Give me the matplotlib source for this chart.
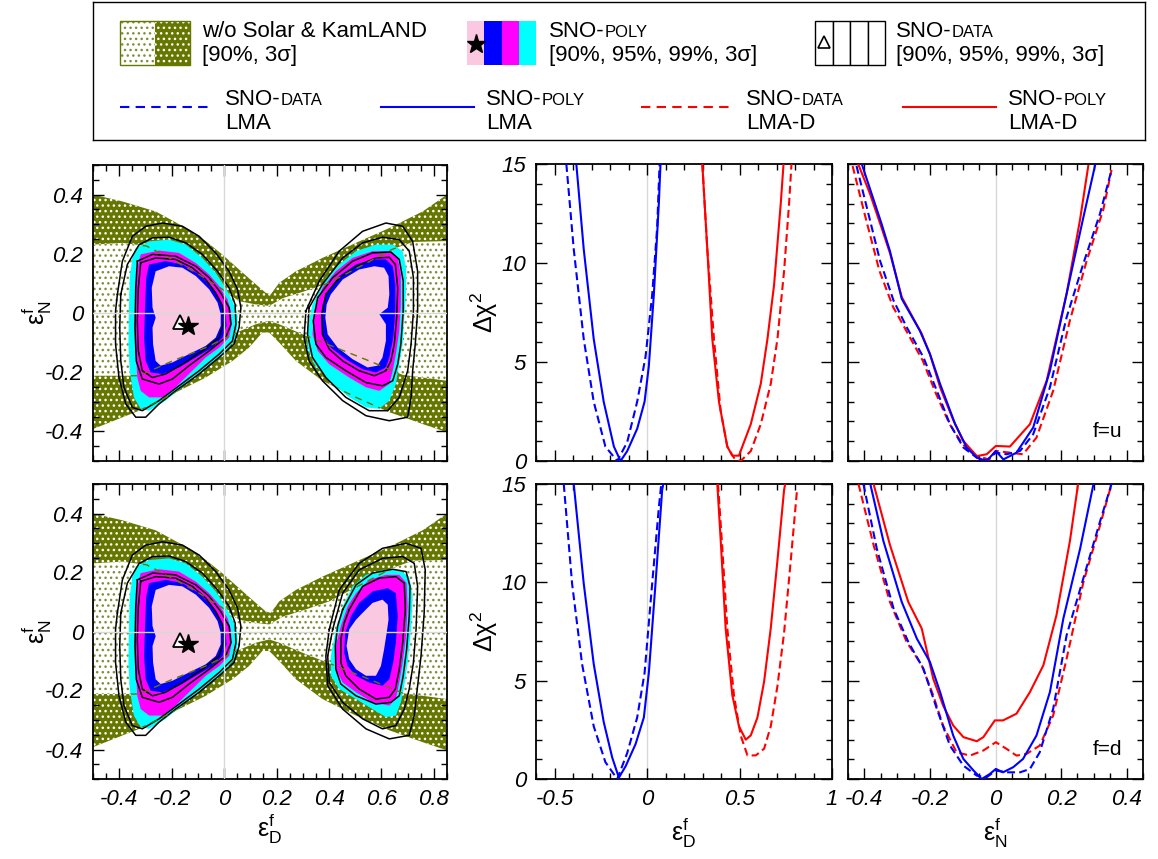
import matplotlib
matplotlib.use('Agg')
import matplotlib.pyplot as plt
from matplotlib.patches import Polygon, Rectangle
from matplotlib.ticker import MultipleLocator, FuncFormatter

plt.rcParams['font.family'] = ['Liberation Sans', 'DejaVu Sans']
plt.rcParams['axes.unicode_minus'] = False
plt.rcParams['mathtext.fontset'] = 'custom'
plt.rcParams['mathtext.rm'] = 'Liberation Sans'
plt.rcParams['mathtext.it'] = 'Liberation Sans:italic'
plt.rcParams['hatch.linewidth'] = 1.0

OLIVE = '#667700'
OLIVE_DOT = '#7f8d35'
PINK = '#fac8e0'
GREY = '#d8d8d8'

# ---- w/o Solar & KamLAND region (eps_D, eps_N) ----
OLIVE_3S_UPPER = [(-0.5, 0.400), (-0.388, 0.377), (-0.261, 0.343), (-0.134, 0.282), (-0.070, 0.243),
                  (-0.006, 0.197), (0.057, 0.147), (0.121, 0.097), (0.159, 0.068), (0.178, 0.063),
                  (0.210, 0.102), (0.274, 0.141), (0.375, 0.186), (0.503, 0.237), (0.630, 0.287),
                  (0.757, 0.343), (0.85, 0.400)]
OLIVE_3S_LOWER = [(-0.5, -0.392), (-0.324, -0.330), (-0.197, -0.274), (-0.070, -0.218), (0.032, -0.162),
                  (0.095, -0.117), (0.146, -0.066), (0.172, -0.066), (0.210, -0.100), (0.274, -0.162),
                  (0.375, -0.229), (0.503, -0.285), (0.630, -0.335), (0.757, -0.375), (0.85, -0.403)]
OLIVE_90_UPPER = [(-0.5, 0.231), (-0.388, 0.237), (-0.295, 0.226), (-0.197, 0.180), (-0.095, 0.130),
                  (-0.006, 0.080), (0.057, 0.040), (0.121, 0.029), (0.172, 0.024), (0.223, 0.050),
                  (0.312, 0.075), (0.401, 0.102), (0.503, 0.150), (0.641, 0.215), (0.720, 0.240),
                  (0.85, 0.243)]
OLIVE_90_LOWER = [(-0.5, -0.212), (-0.324, -0.212), (-0.197, -0.162), (-0.070, -0.117), (0.032, -0.072),
                  (0.121, -0.038), (0.172, -0.027), (0.210, -0.038), (0.299, -0.072), (0.426, -0.117),
                  (0.554, -0.162), (0.681, -0.209), (0.85, -0.229)]

# ---- LMA island (both panels) ----
LMA_POLY_3S = [(-0.337, 0.220), (-0.286, 0.242), (-0.210, 0.248), (-0.146, 0.231), (-0.083, 0.186),
               (-0.032, 0.136), (0.006, 0.085), (0.032, 0.040), (0.051, -0.004), (0.051, -0.049),
               (0.038, -0.094), (-0.006, -0.139), (-0.070, -0.184), (-0.146, -0.240), (-0.223, -0.296),
               (-0.286, -0.330), (-0.318, -0.324), (-0.344, -0.285), (-0.360, -0.195), (-0.365, -0.105),
               (-0.363, 0.007), (-0.360, 0.119), (-0.350, 0.186)]
LMA_POLY_99 = [(-0.318, 0.198), (-0.248, 0.211), (-0.172, 0.203), (-0.108, 0.169), (-0.057, 0.130),
               (-0.019, 0.091), (0.013, 0.046), (0.026, 0.007), (0.029, -0.038), (0.019, -0.083),
               (-0.019, -0.117), (-0.070, -0.150), (-0.134, -0.206), (-0.185, -0.251), (-0.235, -0.285),
               (-0.286, -0.285), (-0.318, -0.263), (-0.331, -0.218), (-0.337, -0.128), (-0.340, -0.027),
               (-0.337, 0.085), (-0.331, 0.153)]
LMA_POLY_95 = [(-0.286, 0.164), (-0.223, 0.175), (-0.159, 0.164), (-0.095, 0.130), (-0.045, 0.085),
               (-0.013, 0.040), (0.006, -0.004), (0.009, -0.044), (-0.006, -0.083), (-0.045, -0.117),
               (-0.108, -0.150), (-0.172, -0.184), (-0.235, -0.206), (-0.280, -0.201), (-0.299, -0.162),
               (-0.305, -0.083), (-0.302, 0.007), (-0.297, 0.119)]
LMA_POLY_90 = [(-0.261, 0.141), (-0.210, 0.158), (-0.159, 0.153), (-0.108, 0.125), (-0.057, 0.080),
               (-0.025, 0.035), (-0.013, -0.004), (-0.013, -0.044), (-0.032, -0.083), (-0.070, -0.111),
               (-0.134, -0.139), (-0.197, -0.167), (-0.242, -0.178), (-0.261, -0.162), (-0.271, -0.105),
               (-0.273, -0.049), (-0.261, -0.016), (-0.273, 0.018), (-0.276, 0.085)]
LMA_DATA = [
    [(-0.318, 0.170), (-0.261, 0.186), (-0.185, 0.181), (-0.121, 0.153), (-0.070, 0.113), (-0.032, 0.068),
     (-0.006, 0.024), (0.000, -0.027), (-0.019, -0.083), (-0.083, -0.128), (-0.159, -0.173),
     (-0.223, -0.206), (-0.273, -0.218), (-0.312, -0.195), (-0.327, -0.128), (-0.331, -0.027),
     (-0.327, 0.085)],
    [(-0.331, 0.175), (-0.273, 0.198), (-0.185, 0.192), (-0.108, 0.158), (-0.057, 0.119), (-0.013, 0.068),
     (0.019, 0.018), (0.026, -0.038), (0.006, -0.083), (-0.057, -0.128), (-0.134, -0.178),
     (-0.197, -0.223), (-0.248, -0.240), (-0.312, -0.223), (-0.335, -0.162), (-0.340, -0.049),
     (-0.337, 0.085)],
    [(-0.394, 0.063), (-0.369, 0.164), (-0.324, 0.231), (-0.273, 0.254), (-0.210, 0.256), (-0.146, 0.237),
     (-0.083, 0.198), (-0.025, 0.141), (0.019, 0.085), (0.042, 0.029), (0.045, -0.038), (0.032, -0.094),
     (-0.019, -0.139), (-0.095, -0.195), (-0.172, -0.246), (-0.248, -0.296), (-0.312, -0.330),
     (-0.350, -0.319), (-0.382, -0.251), (-0.394, -0.162), (-0.398, -0.049)],
    [(-0.407, 0.063), (-0.388, 0.175), (-0.350, 0.259), (-0.299, 0.293), (-0.235, 0.304), (-0.159, 0.293),
     (-0.095, 0.259), (-0.032, 0.203), (0.019, 0.141), (0.051, 0.080), (0.064, 0.018), (0.057, -0.049),
     (0.038, -0.105), (-0.019, -0.150), (-0.095, -0.206), (-0.185, -0.263), (-0.248, -0.307),
     (-0.299, -0.352), (-0.337, -0.352), (-0.375, -0.307), (-0.401, -0.218), (-0.414, -0.105),
     (-0.414, 0.007)],
]

# ---- LMA-D island, f=u ----
LMAD_U_POLY_3S = [(0.388, 0.119), (0.439, 0.164), (0.503, 0.209), (0.579, 0.231), (0.643, 0.231),
                  (0.681, 0.209), (0.694, 0.153), (0.694, 0.074), (0.687, -0.016), (0.681, -0.105),
                  (0.668, -0.173), (0.655, -0.240), (0.630, -0.296), (0.592, -0.324), (0.541, -0.319),
                  (0.477, -0.285), (0.401, -0.229), (0.344, -0.173), (0.318, -0.117), (0.318, -0.049),
                  (0.337, 0.029)]
LMAD_U_POLY_99 = [(0.375, 0.085), (0.426, 0.141), (0.490, 0.186), (0.566, 0.209), (0.630, 0.209),
                  (0.662, 0.186), (0.674, 0.130), (0.674, 0.029), (0.668, -0.061), (0.655, -0.139),
                  (0.643, -0.195), (0.630, -0.240), (0.592, -0.263), (0.541, -0.251), (0.477, -0.218),
                  (0.401, -0.173), (0.357, -0.128), (0.337, -0.072), (0.344, 0.007)]
LMAD_U_POLY_95 = [(0.395, 0.074), (0.439, 0.125), (0.503, 0.164), (0.566, 0.181), (0.617, 0.181),
                  (0.643, 0.158), (0.653, 0.097), (0.653, 0.007), (0.645, -0.083), (0.630, -0.150),
                  (0.617, -0.184), (0.579, -0.201), (0.528, -0.190), (0.464, -0.156), (0.407, -0.117),
                  (0.375, -0.072), (0.369, -0.016), (0.375, 0.029)]
LMAD_U_POLY_90 = [(0.407, 0.063), (0.452, 0.113), (0.515, 0.147), (0.573, 0.158), (0.610, 0.153),
                  (0.627, 0.125), (0.630, 0.063), (0.624, 0.018), (0.592, -0.004), (0.617, -0.038),
                  (0.617, -0.094), (0.604, -0.150), (0.585, -0.178), (0.547, -0.184), (0.490, -0.156),
                  (0.433, -0.117), (0.395, -0.072), (0.386, -0.016), (0.391, 0.029)]
LMAD_U_DATA = [
    [(0.388, 0.063), (0.439, 0.119), (0.503, 0.158), (0.579, 0.186), (0.630, 0.188), (0.653, 0.164),
     (0.662, 0.085), (0.658, -0.016), (0.649, -0.105), (0.636, -0.162), (0.617, -0.195), (0.573, -0.212),
     (0.515, -0.195), (0.452, -0.162), (0.401, -0.122), (0.375, -0.072), (0.373, -0.004)],
    [(0.357, 0.052), (0.414, 0.119), (0.490, 0.175), (0.566, 0.203), (0.636, 0.206), (0.668, 0.181),
     (0.683, 0.108), (0.683, 0.007), (0.674, -0.105), (0.662, -0.173), (0.643, -0.229), (0.604, -0.246),
     (0.541, -0.235), (0.464, -0.195), (0.388, -0.150), (0.350, -0.105), (0.340, -0.027)],
    [(0.324, 0.018), (0.375, 0.097), (0.452, 0.186), (0.528, 0.237), (0.604, 0.256), (0.668, 0.248),
     (0.706, 0.209), (0.722, 0.119), (0.722, 0.007), (0.713, -0.105), (0.700, -0.195), (0.668, -0.285),
     (0.624, -0.330), (0.553, -0.330), (0.464, -0.285), (0.388, -0.218), (0.337, -0.150), (0.318, -0.072)],
    [(0.312, 0.007), (0.363, 0.108), (0.439, 0.209), (0.528, 0.276), (0.617, 0.304), (0.681, 0.293),
     (0.719, 0.242), (0.738, 0.141), (0.738, 0.007), (0.729, -0.105), (0.719, -0.195), (0.713, -0.285),
     (0.700, -0.352), (0.630, -0.364), (0.541, -0.347), (0.452, -0.296), (0.375, -0.229), (0.324, -0.162),
     (0.305, -0.083)],
]

# ---- LMA-D island, f=d ----
LMAD_D_POLY_3S = [(0.490, 0.153), (0.541, 0.192), (0.604, 0.209), (0.668, 0.209), (0.706, 0.186),
                  (0.719, 0.119), (0.713, 0.007), (0.700, -0.105), (0.687, -0.184), (0.674, -0.240),
                  (0.655, -0.285), (0.617, -0.290), (0.566, -0.263), (0.503, -0.229), (0.439, -0.195),
                  (0.407, -0.150), (0.407, -0.083), (0.426, 0.007), (0.452, 0.085)]
LMAD_D_POLY_99 = [(0.503, 0.130), (0.553, 0.175), (0.617, 0.192), (0.668, 0.192), (0.696, 0.164),
                  (0.700, 0.085), (0.694, -0.016), (0.681, -0.105), (0.668, -0.173), (0.655, -0.229),
                  (0.630, -0.251), (0.566, -0.240), (0.503, -0.206), (0.452, -0.173), (0.426, -0.128),
                  (0.426, -0.049), (0.445, 0.018), (0.471, 0.085)]
LMAD_D_POLY_95 = [(0.515, 0.097), (0.566, 0.136), (0.624, 0.147), (0.655, 0.130), (0.662, 0.052),
                  (0.655, -0.038), (0.645, -0.105), (0.630, -0.162), (0.604, -0.184), (0.553, -0.173),
                  (0.503, -0.150), (0.471, -0.117), (0.458, -0.072), (0.462, -0.004), (0.484, 0.052)]
LMAD_D_POLY_90 = [(0.528, 0.063), (0.566, 0.097), (0.604, 0.108), (0.624, 0.091), (0.627, 0.040),
                  (0.620, -0.004), (0.610, -0.061), (0.598, -0.117), (0.579, -0.150), (0.541, -0.150),
                  (0.503, -0.128), (0.477, -0.094), (0.467, -0.049), (0.477, 0.007), (0.503, 0.040)]
LMAD_D_DATA = [
    [(0.477, 0.074), (0.528, 0.153), (0.592, 0.181), (0.655, 0.186), (0.687, 0.164), (0.691, 0.074),
     (0.681, -0.038), (0.668, -0.128), (0.653, -0.195), (0.630, -0.223), (0.579, -0.229), (0.515, -0.195),
     (0.464, -0.150), (0.445, -0.105), (0.445, -0.027), (0.458, 0.029)],
    [(0.452, 0.074), (0.503, 0.158), (0.566, 0.198), (0.643, 0.211), (0.694, 0.203), (0.709, 0.153),
     (0.706, 0.052), (0.696, -0.061), (0.683, -0.150), (0.668, -0.218), (0.636, -0.240), (0.579, -0.246),
     (0.503, -0.218), (0.445, -0.178), (0.426, -0.128), (0.424, -0.049), (0.433, 0.018)],
    [(0.414, 0.007), (0.452, 0.130), (0.515, 0.209), (0.604, 0.248), (0.681, 0.254), (0.725, 0.231),
     (0.738, 0.153), (0.732, 0.007), (0.722, -0.105), (0.706, -0.195), (0.687, -0.263), (0.655, -0.319),
     (0.604, -0.330), (0.528, -0.296), (0.452, -0.240), (0.401, -0.173), (0.395, -0.083)],
    [(0.401, 0.007), (0.439, 0.141), (0.515, 0.231), (0.604, 0.282), (0.694, 0.299), (0.751, 0.282),
     (0.767, 0.209), (0.763, 0.063), (0.751, -0.083), (0.738, -0.184), (0.725, -0.285), (0.706, -0.352),
     (0.630, -0.364), (0.541, -0.330), (0.452, -0.263), (0.395, -0.184), (0.388, -0.083)],
]

BEST_DATA = (-0.168, -0.030)
BEST_POLY = (-0.137, -0.044)

# ---- Delta chi^2 vs eps_D ----
MID_U_DATA_LMA = [(-0.436, 15), (-0.396, 10.7), (-0.342, 6.16), (-0.288, 2.99), (-0.225, 0.73), (-0.161, 0),
                  (-0.107, 0.95), (-0.053, 3.0), (-0.008, 5.26), (0.028, 8.4), (0.055, 11.8), (0.068, 15)]
MID_U_POLY_LMA = [(-0.382, 15), (-0.342, 10.7), (-0.288, 6.16), (-0.234, 2.99), (-0.179, 0.73), (-0.143, 0),
                  (-0.107, 0.5), (-0.053, 1.63), (-0.013, 3.0), (0.010, 4.8), (0.037, 8.4), (0.064, 13),
                  (0.073, 15)]
MID_U_DATA_LMAD = [(0.299, 15), (0.326, 10.7), (0.362, 6.16), (0.398, 2.54), (0.434, 0.73), (0.470, 0.16),
                   (0.506, 0), (0.561, 0.5), (0.615, 1.86), (0.669, 3.9), (0.705, 6.16), (0.741, 9.6),
                   (0.768, 13), (0.781, 15)]
MID_U_POLY_LMAD = [(0.299, 15), (0.326, 10.7), (0.353, 6.16), (0.389, 2.99), (0.434, 0.73), (0.461, 0.27),
                   (0.497, 0.27), (0.506, 0.5), (0.561, 1.86), (0.615, 3.9), (0.651, 6.16), (0.687, 8.9),
                   (0.723, 13), (0.738, 15)]
MID_D_DATA_LMA = [(-0.450, 15), (-0.405, 9.94), (-0.351, 5.85), (-0.288, 2.68), (-0.225, 0.86), (-0.161, 0),
                  (-0.107, 1.32), (-0.053, 3.13), (-0.013, 5.4), (0.028, 9.94), (0.064, 13.8), (0.077, 15)]
MID_D_POLY_LMA = [(-0.396, 15), (-0.342, 9.94), (-0.288, 5.85), (-0.234, 2.9), (-0.188, 1.09), (-0.152, 0.07),
                  (-0.116, 0.64), (-0.062, 1.77), (-0.017, 3.13), (0.010, 5.4), (0.046, 9.94), (0.082, 14.7),
                  (0.088, 15)]
MID_D_DATA_LMAD = [(0.384, 15), (0.407, 11.75), (0.434, 7.67), (0.470, 4.27), (0.506, 2.22), (0.543, 1.2),
                   (0.588, 1.2), (0.633, 1.54), (0.669, 2.68), (0.705, 4.72), (0.741, 7.44), (0.777, 11.1),
                   (0.810, 14.6)]
MID_D_POLY_LMAD = [(0.380, 15), (0.398, 12.2), (0.425, 7.67), (0.461, 4.27), (0.497, 2.68), (0.534, 2.0),
                   (0.561, 2.22), (0.597, 3.13), (0.633, 4.95), (0.669, 7.67), (0.705, 11.1), (0.741, 14.7),
                   (0.747, 15)]

# ---- Delta chi^2 vs eps_N ----
RIGHT_U_POLY_LMAD = [(-0.419, 15), (-0.383, 13.5), (-0.348, 11.8), (-0.322, 10.5), (-0.286, 8.28),
                     (-0.225, 6.42), (-0.200, 5.4), (-0.169, 3.72), (-0.128, 2.03), (-0.098, 1.01),
                     (-0.057, 0.25), (-0.027, 0.34), (0.001, 0.76), (0.044, 0.73), (0.105, 1.86),
                     (0.156, 4.05), (0.217, 8.45), (0.258, 12.2), (0.283, 14.9)]
RIGHT_U_POLY_LMA = [(-0.408, 15), (-0.378, 13.5), (-0.348, 12.0), (-0.322, 10.6), (-0.286, 8.19),
                    (-0.231, 6.59), (-0.200, 5.4), (-0.169, 3.89), (-0.123, 1.86), (-0.088, 0.68),
                    (-0.057, 0.17), (-0.027, 0), (0.001, 0.51), (0.024, 0.08), (0.064, 0.42), (0.115, 1.69),
                    (0.166, 4.56), (0.217, 8.45), (0.268, 12.3), (0.304, 14.95)]
RIGHT_U_DATA_LMAD = [(-0.436, 14.9), (-0.395, 12.2), (-0.354, 9.6), (-0.313, 7.8), (-0.273, 6.6),
                     (-0.222, 5.07), (-0.181, 3.38), (-0.140, 1.86), (-0.100, 0.84), (-0.059, 0.25),
                     (-0.019, 0.08), (0.001, 0.51), (0.044, 0.42), (0.084, 0.34), (0.125, 1.18),
                     (0.176, 3.55), (0.227, 7.1), (0.278, 10.1), (0.329, 12.7), (0.354, 14.7)]
RIGHT_U_DATA_LMA = [(-0.424, 14.9), (-0.388, 12.5), (-0.352, 10.1), (-0.311, 8.1), (-0.271, 6.76),
                    (-0.220, 5.24), (-0.179, 3.55), (-0.139, 1.86), (-0.098, 0.68), (-0.057, 0.17),
                    (-0.027, 0.03), (0.001, 0.42), (0.034, 0.34), (0.075, 0.51), (0.115, 1.35),
                    (0.166, 3.72), (0.217, 7.26), (0.268, 9.97), (0.319, 12.5), (0.354, 14.7)]
RIGHT_D_POLY_LMAD = [(-0.372, 15), (-0.322, 11.9), (-0.266, 9.0), (-0.225, 7.65), (-0.190, 5.1),
                     (-0.160, 3.74), (-0.129, 2.72), (-0.098, 2.13), (-0.057, 1.92), (-0.037, 2.13),
                     (-0.002, 2.98), (0.023, 2.98), (0.064, 3.32), (0.105, 4.42), (0.146, 5.78),
                     (0.186, 8.33), (0.227, 12.1), (0.252, 15)]
RIGHT_D_DATA_LMAD = [(-0.418, 15), (-0.372, 11.9), (-0.322, 9.0), (-0.271, 6.97), (-0.225, 5.78),
                     (-0.190, 4.25), (-0.160, 2.72), (-0.119, 1.36), (-0.078, 1.19), (-0.037, 1.45),
                     (0.001, 1.87), (0.034, 1.53), (0.064, 1.19), (0.095, 1.28), (0.135, 1.70),
                     (0.176, 3.23), (0.217, 6.12), (0.268, 10.0), (0.319, 12.9), (0.354, 15)]
RIGHT_D_POLY_LMA = [(-0.382, 15), (-0.342, 12.1), (-0.286, 9.0), (-0.240, 7.14), (-0.200, 5.95),
                    (-0.169, 4.42), (-0.129, 2.21), (-0.098, 1.02), (-0.067, 0.43), (-0.042, 0),
                    (-0.017, 0.26), (0.001, 0.51), (0.023, 0.34), (0.054, 0.6), (0.084, 1.02),
                    (0.125, 2.21), (0.166, 4.42), (0.207, 8.16), (0.258, 11.7), (0.299, 15)]
RIGHT_D_DATA_LMA = [(-0.403, 15), (-0.362, 11.7), (-0.311, 8.67), (-0.266, 6.97), (-0.220, 5.61),
                    (-0.179, 3.57), (-0.139, 1.70), (-0.098, 0.68), (-0.057, 0.17), (-0.027, 0.09),
                    (0.001, 0.43), (0.034, 0.34), (0.075, 0.34), (0.105, 0.51), (0.135, 1.36),
                    (0.176, 3.57), (0.217, 7.31), (0.268, 10.2), (0.319, 13.1), (0.354, 15)]

W, H = 1158, 859
fig = plt.figure(figsize=(W / 100, H / 100), dpi=100)


def px_axes(x0, y0, x1, y1):
    return fig.add_axes([x0 / W, 1 - y1 / H, (x1 - x0) / W, (y1 - y0) / H])


fmt = FuncFormatter(lambda v, p: '%g' % (round(v, 6) + 0.0))


def style(ax, xlim, ylim, xmaj, xmin, ymaj, ymin, xlab, ylab):
    ax.set_xlim(*xlim)
    ax.set_ylim(*ylim)
    ax.xaxis.set_major_locator(MultipleLocator(xmaj))
    ax.xaxis.set_minor_locator(MultipleLocator(xmin))
    ax.yaxis.set_major_locator(MultipleLocator(ymaj))
    ax.yaxis.set_minor_locator(MultipleLocator(ymin))
    ax.xaxis.set_major_formatter(fmt)
    ax.yaxis.set_major_formatter(fmt)
    ax.tick_params(which='both', direction='in', top=True, right=True, width=1.0,
                   labelsize=16, pad=7, labelbottom=xlab, labelleft=ylab)
    ax.tick_params(which='major', length=8)
    ax.tick_params(which='minor', length=4)
    for lbl in ax.get_xticklabels() + ax.get_yticklabels():
        lbl.set_fontstyle('italic')
    for s in ax.spines.values():
        s.set_linewidth(1.3)


def boundary(ax, pts, **kw):
    xs, ys = zip(*pts)
    return ax.plot(xs, ys, **kw)[0]


def contour_panel(ax, islands, xlab):
    dark = Polygon(OLIVE_3S_UPPER + OLIVE_3S_LOWER[::-1], closed=True, facecolor=OLIVE,
                   edgecolor='white', hatch='...', lw=0, zorder=1)
    light = Polygon(OLIVE_90_UPPER + OLIVE_90_LOWER[::-1], closed=True, facecolor='white',
                    edgecolor=OLIVE_DOT, hatch='...', lw=0, zorder=2)
    ax.add_patch(dark)
    ax.add_patch(light)
    for cyan, magenta, blue, pink, lines in islands:
        outer = None
        for pts, c in ((cyan, '#00ffff'), (magenta, '#ff00ff'), (blue, '#0000ff'), (pink, PINK)):
            p = Polygon(pts, closed=True, facecolor=c, edgecolor='none', zorder=3)
            ax.add_patch(p)
            if outer is None:
                outer = p
        for pts in lines:
            boundary(ax, pts + pts[:1], color='black', lw=1.1, zorder=4)
        for bnd in (OLIVE_3S_UPPER, OLIVE_3S_LOWER, OLIVE_90_UPPER, OLIVE_90_LOWER):
            ln = boundary(ax, bnd, color=OLIVE, lw=1.0, dashes=(5, 4), zorder=5)
            ln.set_clip_path(outer)
    ax.axvline(0, color=GREY, lw=1.0, zorder=6)
    ax.axhline(0, color=GREY, lw=1.0, zorder=6)
    ax.plot(*BEST_DATA, marker='^', ms=10, mfc='white', mec='black', mew=1.3, zorder=7)
    ax.plot(*BEST_POLY, marker='*', ms=15, color='black', zorder=7)
    style(ax, (-0.5, 0.85), (-0.5, 0.5), 0.2, 0.05, 0.2, 0.05, xlab, True)
    ax.set_ylabel(r'$\mathrm{ε}^{\mathrm{f}}_{\mathrm{N}}$', fontsize=18)
    ax.yaxis.set_label_coords(-0.11, 0.5)


def chi_panel(ax, curves, xlim, xmaj, xmin, xlab, ylab):
    for pts, color, dashed in curves:
        ln = boundary(ax, pts, color=color, lw=1.5, zorder=3)
        if dashed:
            ln.set_dashes((3.8, 2.0))
    ax.axvline(0, color=GREY, lw=1.0, zorder=1)
    style(ax, xlim, (0, 15), xmaj, xmin, 5, 1, xlab, ylab)
    if ylab:
        ax.set_ylabel(r'$\mathrm{Δχ}^{2}$', fontsize=18)
        ax.yaxis.set_label_coords(-0.12, 0.5)


ax_cu = px_axes(93, 165, 447, 461)
ax_cd = px_axes(93, 484, 447, 779)
ax_mu = px_axes(536, 164, 832, 461)
ax_md = px_axes(536, 484, 832, 779)
ax_ru = px_axes(848, 164, 1143, 461)
ax_rd = px_axes(848, 484, 1143, 779)
ax_leg = px_axes(93, 2, 1145, 140)

contour_panel(ax_cu, [(LMA_POLY_3S, LMA_POLY_99, LMA_POLY_95, LMA_POLY_90, LMA_DATA),
                      (LMAD_U_POLY_3S, LMAD_U_POLY_99, LMAD_U_POLY_95, LMAD_U_POLY_90, LMAD_U_DATA)], False)
contour_panel(ax_cd, [(LMA_POLY_3S, LMA_POLY_99, LMA_POLY_95, LMA_POLY_90, LMA_DATA),
                      (LMAD_D_POLY_3S, LMAD_D_POLY_99, LMAD_D_POLY_95, LMAD_D_POLY_90, LMAD_D_DATA)], True)
ax_cd.set_xlabel(r'$\mathrm{ε}^{\mathrm{f}}_{\mathrm{D}}$', fontsize=18)
ax_cd.xaxis.set_label_coords(0.5, -0.11)

chi_panel(ax_mu, [(MID_U_DATA_LMA, 'blue', True), (MID_U_POLY_LMA, 'blue', False),
                  (MID_U_DATA_LMAD, 'red', True), (MID_U_POLY_LMAD, 'red', False)],
          (-0.6, 1.0), 0.5, 0.1, False, True)
chi_panel(ax_md, [(MID_D_DATA_LMA, 'blue', True), (MID_D_POLY_LMA, 'blue', False),
                  (MID_D_DATA_LMAD, 'red', True), (MID_D_POLY_LMAD, 'red', False)],
          (-0.6, 1.0), 0.5, 0.1, True, True)
ax_md.set_xlabel(r'$\mathrm{ε}^{\mathrm{f}}_{\mathrm{D}}$', fontsize=18)
ax_md.xaxis.set_label_coords(0.5, -0.125)

chi_panel(ax_ru, [(RIGHT_U_DATA_LMAD, 'red', True), (RIGHT_U_DATA_LMA, 'blue', True),
                  (RIGHT_U_POLY_LMAD, 'red', False), (RIGHT_U_POLY_LMA, 'blue', False)],
          (-0.45, 0.45), 0.2, 0.05, False, False)
chi_panel(ax_rd, [(RIGHT_D_DATA_LMAD, 'red', True), (RIGHT_D_DATA_LMA, 'blue', True),
                  (RIGHT_D_POLY_LMAD, 'red', False), (RIGHT_D_POLY_LMA, 'blue', False)],
          (-0.45, 0.45), 0.2, 0.05, True, False)
ax_rd.set_xlabel(r'$\mathrm{ε}^{\mathrm{f}}_{\mathrm{N}}$', fontsize=18)
ax_rd.xaxis.set_label_coords(0.5, -0.125)
ax_ru.text(0.88, 0.1, 'f=u', transform=ax_ru.transAxes, fontsize=15, ha='center', va='center')
ax_rd.text(0.88, 0.1, 'f=d', transform=ax_rd.transAxes, fontsize=15, ha='center', va='center')

# ---- legend box ----
ax_leg.set_xlim(0, 1052)
ax_leg.set_ylim(138, 0)
ax_leg.set_xticks([])
ax_leg.set_yticks([])
for s in ax_leg.spines.values():
    s.set_linewidth(1.0)

renderer = fig.canvas.get_renderer()
LEG_FS = 16


def leg_text(x, y, parts):
    for s, scale in parts:
        t = ax_leg.text(x, y, s, fontsize=LEG_FS * scale, va='baseline', ha='left')
        bb = t.get_window_extent(renderer)
        x = ax_leg.transData.inverted().transform((bb.x1, bb.y0))[0]


ax_leg.add_patch(Rectangle((27, 19), 35, 44, facecolor='white', edgecolor=OLIVE_DOT, hatch='...', lw=0))
ax_leg.add_patch(Rectangle((62, 19), 35, 44, facecolor=OLIVE, edgecolor='white', hatch='...', lw=0))
ax_leg.add_patch(Rectangle((27, 19), 70, 44, facecolor='none', edgecolor=OLIVE, lw=1.0))
leg_text(109, 35, [('w/o Solar & KamLAND', 1)])
leg_text(109, 59, [('[90%, 3σ]', 1)])

for i, c in enumerate((PINK, '#0000ff', '#ff00ff', '#00ffff')):
    ax_leg.add_patch(Rectangle((374 + 17.3 * i, 19), 17.3, 44, facecolor=c, edgecolor='none'))
ax_leg.plot(383, 42, marker='*', ms=14, color='black')
leg_text(456, 35, [('SNO-', 1), ('POLY', 0.75)])
leg_text(456, 59, [('[90%, 95%, 99%, 3σ]', 1)])

for i in range(4):
    ax_leg.add_patch(Rectangle((722 + 17.5 * i, 19), 17.5, 44, facecolor='white', edgecolor='black', lw=1.0))
ax_leg.plot(731, 40, marker='^', ms=9, mfc='white', mec='black', mew=1.2)
leg_text(803, 35, [('SNO-', 1), ('DATA', 0.75)])
leg_text(803, 59, [('[90%, 95%, 99%, 3σ]', 1)])

for x0, color, dashed, kind, tag in ((27, 'blue', True, 'DATA', 'LMA'), (288, 'blue', False, 'POLY', 'LMA'),
                                     (548, 'red', True, 'DATA', 'LMA-D'), (810, 'red', False, 'POLY', 'LMA-D')):
    ln, = ax_leg.plot([x0, x0 + 93], [105, 105], color=color, lw=1.5)
    if dashed:
        ln.set_dashes((4.5, 3.0))
    leg_text(x0 + 105, 103, [('SNO-', 1), (kind, 0.75)])
    leg_text(x0 + 105, 127, [(tag, 1)])

fig.savefig('out.png', dpi=100)
